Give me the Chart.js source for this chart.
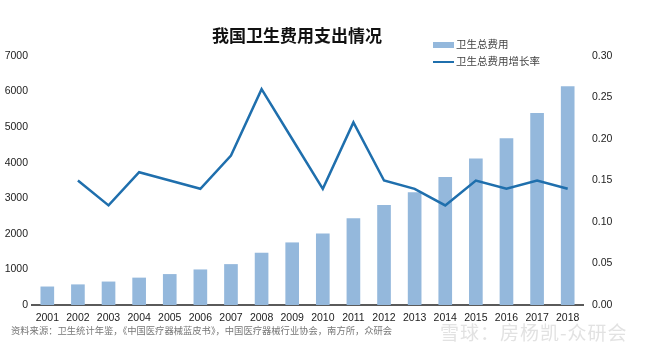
<!DOCTYPE html>
<html>
<head>
<meta charset="utf-8">
<script src="https://cdn.jsdelivr.net/npm/chart.js@4"></script>
<style>
  body { margin: 0; background: #fff; }
  #wrap { position: relative; width: 660px; height: 351px; font-family: "Noto Sans CJK SC", "Liberation Sans", sans-serif; }
  #title { position: absolute; left: 0; width: 594px; top: 22px; text-align: center; font-size: 17px; font-weight: bold; color: #111; }
  .leg { position: absolute; left: 433px; font-size: 10.5px; color: #444; white-space: nowrap; }
  .sw { display: inline-block; width: 21px; vertical-align: middle; margin-right: 2px; }
  #source { position: absolute; left: 11px; top: 323px; font-size: 9.3px; color: #777; white-space: nowrap; }
  #mark { position: absolute; left: 440px; top: 318px; font-size: 19px; color: #e2e2e2; letter-spacing: 1px; white-space: nowrap; }
</style>
</head>
<body>
<div id="wrap">
  <canvas id="combo" width="660" height="351"></canvas>
  <div id="title">我国卫生费用支出情况</div>
  <div class="leg" style="top:36px"><span class="sw" style="height:6px;background:#94b8dc"></span>卫生总费用</div>
  <div class="leg" style="top:53px"><span class="sw" style="height:2.5px;background:#1f6fad"></span>卫生总费用增长率</div>
  <div id="source">资料来源：卫生统计年鉴，《中国医疗器械蓝皮书》，中国医疗器械行业协会，南方所，众研会</div>
  <div id="mark">雪球：房杨凯-众研会</div>
</div>
<script>
const years = ["2001", "2002", "2003", "2004", "2005", "2006", "2007", "2008", "2009",
  "2010", "2011", "2012", "2013", "2014", "2015", "2016", "2017", "2018"];
// 卫生总费用
const spending = [510, 570, 650, 760, 860, 990, 1140, 1460, 1750,
  2000, 2430, 2800, 3160, 3590, 4110, 4680, 5390, 6140];
// 增长率
const growth = [null, 0.15, 0.12, 0.16, 0.15, 0.14, 0.18, 0.26, 0.20,
  0.14, 0.22, 0.15, 0.14, 0.12, 0.15, 0.14, 0.15, 0.14];

const tickFont = { family: "Liberation Sans, Arial, sans-serif", size: 10.5 };

const ctx = document.getElementById("combo").getContext("2d");
const chart = new Chart(ctx, {
  type: "bar",
  data: {
    labels: years,
    datasets: [
      {
        type: "line",
        label: "卫生总费用增长率",
        data: growth,
        yAxisID: "y1",
        borderColor: "#1f6fad",
        borderWidth: 2.5,
        pointRadius: 0,
        fill: false,
        tension: 0,
        order: 0,
      },
      {
        label: "卫生总费用",
        data: spending,
        yAxisID: "y",
        backgroundColor: "#94b8dc",
        barThickness: 13,
        order: 1,
      },
    ],
  },
  options: {
    responsive: false,
    animation: false,
    layout: { padding: { top: 56, left: 0, right: 0, bottom: 0 } },
    plugins: {
      legend: { display: false },
      title: { display: false },
      tooltip: { enabled: false },
    },
    scales: {
      x: {
        grid: { display: false, drawTicks: false },
        border: { display: true, color: "#5a5a5a", width: 2 },
        ticks: { color: "#222", font: tickFont, padding: 7, maxRotation: 0, autoSkip: false },
        afterFit: (scale) => { scale.height = 46; },
      },
      y: {
        position: "left",
        min: 0,
        max: 7000,
        grid: { display: false, drawTicks: false },
        border: { display: false },
        ticks: { stepSize: 1000, color: "#222", font: tickFont, padding: 4, callback: (v) => String(v) },
        afterFit: (scale) => { scale.width = 32; },
      },
      y1: {
        position: "right",
        min: 0,
        max: 0.3,
        grid: { display: false, drawTicks: false },
        border: { display: false },
        ticks: {
          stepSize: 0.05,
          color: "#222",
          font: tickFont,
          padding: 9,
          callback: (v) => v.toFixed(2),
        },
        afterFit: (scale) => { scale.width = 77; },
      },
    },
  },
});
</script>
</body>
</html>
